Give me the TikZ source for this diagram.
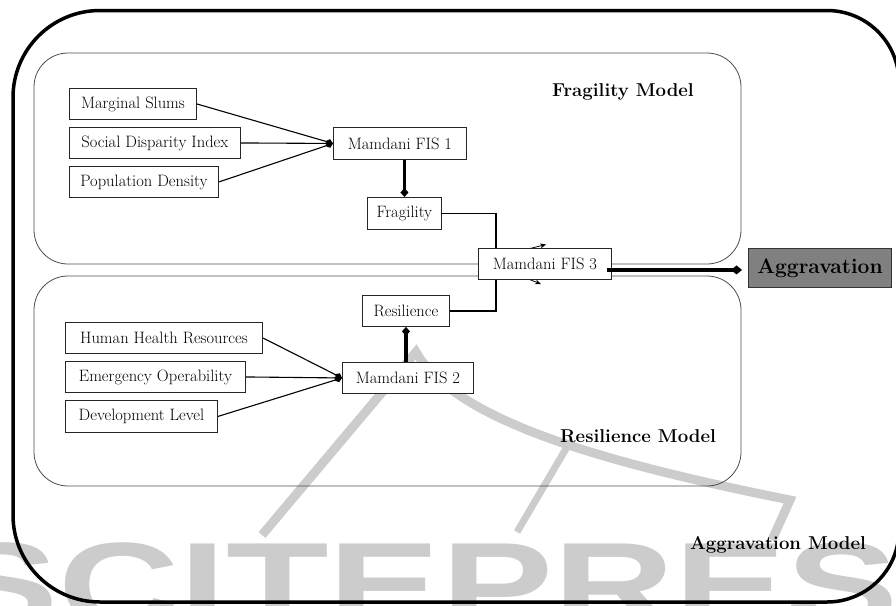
\documentclass[tikz,border=0pt]{standalone}
\usepackage{fontspec}
\usetikzlibrary{arrows.meta,calc}
\newfontfamily\wmfont{Liberation Sans}
\definecolor{wmgray}{RGB}{204,204,204}
\definecolor{aggfill}{RGB}{128,128,128}

\begin{document}
\begin{tikzpicture}[x=1pt,y=-1pt,
  inbox/.style={draw=black!85, fill=white, line width=0.9pt, inner sep=0pt,
    anchor=north west, font=\fontsize{16.5}{19}\selectfont},
  modelbox/.style={draw=black!70, line width=0.8pt, rounded corners=34pt},
  link/.style={line width=1.1pt, -{Diamond[length=8pt,width=6.5pt]}},
  thicklink/.style={line width=3.2pt, -{Diamond[length=9pt,width=8pt]}},
  buslink/.style={line width=1.4pt},
  stub/.style={line width=0.8pt, -{Stealth[length=6pt,width=5pt]}},
  title/.style={font=\fontsize{18.6}{22}\selectfont\bfseries},
]
\useasboundingbox (0,0) rectangle (896,605);

% publisher watermark, behind everything
\begin{scope}
  \clip (0,0) rectangle (896,605);
  \node[anchor=base west, inner sep=0pt, xscale=1.4, text=wmgray,
        font=\wmfont\bfseries\fontsize{120}{120}\selectfont] (wm) at (-54,626) {SCITEPRESS};
  \draw[wmgray, line width=9pt, line join=miter]
    (262,535) -- (416,352) .. controls (455,420) and (600,462) .. (790,500) -- (772,540);
  \draw[wmgray, line width=7pt] (567,447) -- (517,532);
\end{scope}

% outer frame: Aggravation Model
\draw[line width=3.5pt]
  (100,10.5) -- (827,10.5)
  .. controls (866.77,10.5) and (899,42.73) .. (899,82.5)
  -- (899,530)
  .. controls (899,569.77) and (866.77,602) .. (827,602)
  -- (100,602)
  .. controls (51.95,602) and (13,563.05) .. (13,515)
  -- (13,97.5)
  .. controls (13,49.45) and (51.95,10.5) .. (100,10.5) -- cycle;

% sub-model frames
\draw[modelbox] (34,53) rectangle (741,264);
\draw[modelbox] (34,276) rectangle (741,486);

% fragility inputs
\node[inbox, minimum width=127pt, minimum height=31pt] (ms)  at (69,88)  {Marginal Slums};
\node[inbox, minimum width=171pt, minimum height=31pt] (sdi) at (69,127) {Social Disparity Index};
\node[inbox, minimum width=149pt, minimum height=31pt] (pd)  at (69,166) {Population Density};
\node[inbox, minimum width=133pt, minimum height=32pt] (fis1) at (333,127) {Mamdani FIS 1};
\node[inbox, minimum width=74pt,  minimum height=32pt] (frag) at (367,197) {Fragility};

% resilience inputs
\node[inbox, minimum width=197pt, minimum height=31pt] (hhr) at (65,322) {Human Health Resources};
\node[inbox, minimum width=180pt, minimum height=31pt] (eo)  at (65,361) {Emergency Operability};
\node[inbox, minimum width=152pt, minimum height=32pt] (dl)  at (65,400) {Development Level};
\node[inbox, minimum width=131pt, minimum height=31pt] (fis2) at (342,362) {Mamdani FIS 2};
\node[inbox, minimum width=87pt,  minimum height=31pt] (res)  at (362,295) {Resilience};

% bus joining Fragility and Resilience, passing behind FIS 3
\coordinate (bus) at (496,0);
\draw[buslink] (frag.east) -| (bus |- res.east) -- (res.east);
\coordinate (stubA) at (500,256);
\coordinate (stubB) at (500,268);
\coordinate (tipA) at (546,244.5);
\coordinate (tipB) at (541,284);
\draw[stub] (stubA) -- (tipA);
\draw[stub] (stubB) -- (tipB);

\node[inbox, minimum width=133pt, minimum height=31pt] (fis3) at (478,248) {Mamdani FIS 3};
\node[inbox, fill=aggfill, draw=black!80, minimum width=143pt, minimum height=39pt,
      font=\fontsize{21}{24}\selectfont\bfseries] (agg) at (748,248) {Aggravation};

% connectors
\draw[link] (ms.east)  -- (fis1.west);
\draw[link] (sdi.east) -- (fis1.west);
\draw[link] (pd.east)  -- (fis1.west);
\draw[link] (hhr.east) -- (fis2.west);
\draw[link] (eo.east)  -- (fis2.west);
\draw[link] (dl.east)  -- (fis2.west);
\draw[thicklink] (frag.north |- fis1.south) -- (frag.north);
\draw[thicklink] (res.south |- fis2.north) -- (res.south);
\draw[line width=3.6pt, -{Diamond[length=11pt,width=9pt]}]
  ($(fis3.east |- agg.west)+(-5,2)$) -- ($(agg.west)+(-6,2)$);

% model titles
\node[title] (fragt) at (623,92)  {Fragility Model};
\node[title] (rest)  at (638,436) {Resilience Model};
\node[title] (aggt)  at (778,545) {Aggravation Model};
\end{tikzpicture}
\end{document}
